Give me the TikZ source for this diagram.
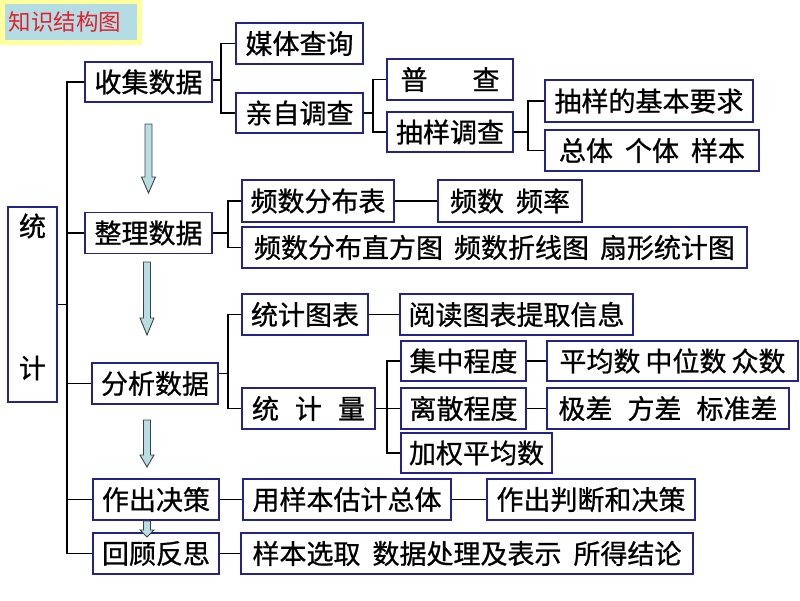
\documentclass[tikz,border=0pt]{standalone}
\usepackage{fontspec}
\newfontfamily\cjk[AutoFakeBold=0.8]{Noto Sans CJK SC}
\definecolor{boxblue}{HTML}{23238C}
\definecolor{arrowfill}{HTML}{B8DEE3}
\definecolor{titlered}{HTML}{E2222A}
\definecolor{titlebg}{HTML}{B3DCE4}
\definecolor{titleframe}{HTML}{FFFF9C}
\tikzset{
  boxfont/.style={font=\cjk\bfseries\fontsize{27}{30}\selectfont},
  box/.style={draw=boxblue, line width=1.4pt, fill=white, inner sep=0pt, boxfont},
  conn/.style={draw=black, line width=1.2pt},
  barrow/.style={draw=black!75, line width=0.9pt, fill=arrowfill, line join=miter}
}
\newcommand\blockarrow[4]{%
  \draw[barrow] (#1-3.5,#2) -- (#1+3.5,#2) -- (#1+3.5,#3) -- (#1+7,#3) -- (#1,#4) -- (#1-7,#3) -- (#1-3.5,#3) -- cycle;}
\begin{document}
\begin{tikzpicture}[x=1pt,y=-1pt]
\useasboundingbox (0,0) rectangle (800,600);
% title
\fill[titleframe] (0,0) rectangle (142,45);
\fill[titlebg] (5,4) rectangle (137,40);
\node[text=titlered, font=\cjk\fontsize{22.5}{24}\selectfont, inner sep=0pt] (title) at (65,22) {知识结构图};
% root
\node[box, minimum width=49pt, minimum height=195pt] (tj) at (32.5,304.5) {};
\node[boxfont, inner sep=0pt] (tjA) at (32.5,226) {统};
\node[boxfont, inner sep=0pt] (tjB) at (32.5,368) {计};
% level 1
\node[box, minimum width=127pt, minimum height=40pt] (shouji) at (148.5,82) {收集数据};
\node[box, minimum width=127pt, minimum height=41pt] (zhengli) at (148.5,233) {整理数据};
\node[box, minimum width=126pt, minimum height=41pt] (fenxi) at (155,383.5) {分析数据};
\node[box, minimum width=126pt, minimum height=41pt] (zuochu) at (156,499.5) {作出决策};
\node[box, minimum width=126pt, minimum height=41pt] (huigu) at (156,553.5) {回顾反思};
% collect
\node[box, minimum width=127pt, minimum height=41pt] (meiti) at (299.5,43.5) {媒体查询};
\node[box, minimum width=127pt, minimum height=40pt] (qinzi) at (299.5,113) {亲自调查};
\node[box, minimum width=126pt, minimum height=41pt] (pucha) at (450,79.5) {普\hspace{45pt}查};
\node[box, minimum width=126pt, minimum height=40pt] (chouyang) at (450,132) {抽样调查};
\node[box, minimum width=208pt, minimum height=42pt] (yaoqiu) at (649,101) {抽样的基本要求};
\node[box, minimum width=214pt, minimum height=41pt] (zongti) at (652,150.5) {总体\hspace{12pt}个体\hspace{12pt}样本};
% organise
\node[box, minimum width=152pt, minimum height=42pt] (pinshubiao) at (318,201) {频数分布表};
\node[box, minimum width=144pt, minimum height=42pt] (pinlv) at (510,201) {频数\hspace{12pt}频率};
\node[box, minimum width=505pt, minimum height=41pt] (zhifangtu) at (494.5,247.5) {频数分布直方图\hspace{11pt}频数折线图\hspace{11pt}扇形统计图};
% analyse
\node[box, minimum width=126pt, minimum height=41pt] (tubiao) at (305,314.5) {统计图表};
\node[box, minimum width=233pt, minimum height=41pt] (yuedu) at (516.5,314.5) {阅读图表提取信息};
\node[box, minimum width=133pt, minimum height=41pt] (tongjiliang) at (308.5,408.5) {统\hspace{16pt}计\hspace{16pt}量};
\node[box, minimum width=125pt, minimum height=40pt] (jizhong) at (463.5,361) {集中程度};
\node[box, minimum width=125pt, minimum height=41pt] (lisan) at (463.5,408.5) {离散程度};
\node[box, minimum width=151pt, minimum height=40pt] (jiaquan) at (476.5,453) {加权平均数};
\node[box, minimum width=251pt, minimum height=40pt] (pingjun) at (672.5,361) {平均数\hspace{5pt}中位数\hspace{5pt}众数};
\node[box, minimum width=242pt, minimum height=41pt] (jicha) at (668,408.5) {极差\hspace{15pt}方差\hspace{15pt}标准差};
% decide / review
\node[box, minimum width=208pt, minimum height=41pt] (guji) at (347,499.5) {用样本估计总体};
\node[box, minimum width=208pt, minimum height=41pt] (panduan) at (591,499.5) {作出判断和决策};
\node[box, minimum width=452pt, minimum height=41pt] (yangben) at (467,553.5) {样本选取\hspace{12pt}数据处理及表示\hspace{12pt}所得结论};
% bus coordinates
\coordinate (b0) at (67,0);
\coordinate (b1) at (221,0);
\coordinate (b2) at (373,0);
\coordinate (b3) at (528,0);
\coordinate (b4) at (228,0);
\coordinate (b6) at (387,0);
% main tree
\draw[conn] (shouji.west) -| (b0 |- huigu.west) -- (huigu.west);
\draw[conn] (zhengli.west) -- (zhengli.west -| b0);
\draw[conn] (fenxi.west) -- (fenxi.west -| b0);
\draw[conn] (zuochu.west) -- (zuochu.west -| b0);
\draw[conn] (tj.east) -- (tj.east -| b0);
% collect tree
\draw[conn] ([yshift=2pt]shouji.east) -- ([yshift=2pt]shouji.east -| b1);
\draw[conn] (meiti.west) -| (b1 |- qinzi.west) -- (qinzi.west);
\draw[conn] (qinzi.east) -- (qinzi.east -| b2);
\draw[conn] (pucha.west) -| (b2 |- chouyang.west) -- (chouyang.west);
\draw[conn] (chouyang.east) -- (chouyang.east -| b3);
\draw[conn] (yaoqiu.west) -| (b3 |- zongti.west) -- (zongti.west);
% organise tree
\draw[conn] (zhengli.east) -- (zhengli.east -| b4);
\draw[conn] (pinshubiao.west) -| (b4 |- zhifangtu.west) -- (zhifangtu.west);
\draw[conn] (pinshubiao.east) -- (pinlv.west);
% analyse tree
\draw[conn] ([yshift=10pt]fenxi.east) -- ([yshift=10pt]fenxi.east -| b4);
\draw[conn] (tubiao.west) -| (b4 |- tongjiliang.west) -- (tongjiliang.west);
\draw[conn] (tubiao.east) -- (yuedu.west);
\draw[conn] (tongjiliang.east) -- (tongjiliang.east -| b6);
\draw[conn] (jizhong.west) -| (b6 |- jiaquan.west) -- (jiaquan.west);
\draw[conn] (lisan.west) -- (lisan.west -| b6);
\draw[conn] (jizhong.east) -- (pingjun.west);
\draw[conn] (lisan.east) -- (jicha.west);
% decide / review
\draw[conn] (zuochu.east) -- (guji.west);
\draw[conn] (guji.east) -- (panduan.west);
\draw[conn] (huigu.east) -- (yangben.west);
% block arrows
\blockarrow{148.5}{124}{177}{193}
\blockarrow{147}{262}{318}{335}
\blockarrow{147}{420}{455}{467}
\blockarrow{147}{521}{530}{537}
\end{tikzpicture}
\end{document}
